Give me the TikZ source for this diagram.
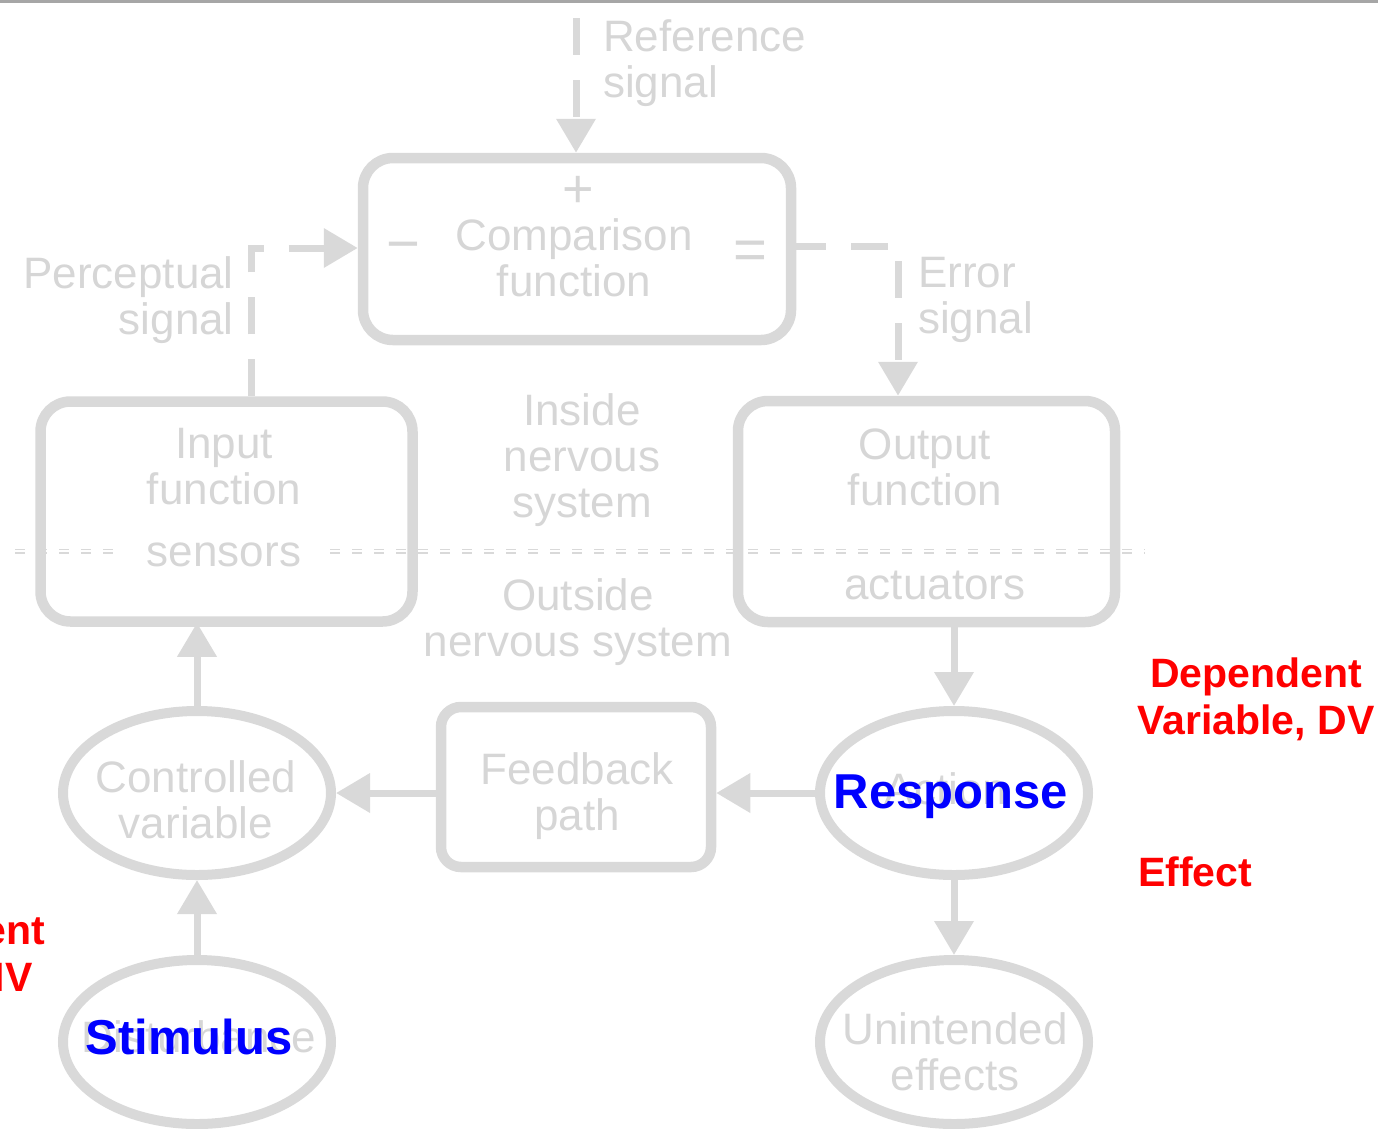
\documentclass[tikz,border=0pt]{standalone}
\usepackage{fontspec}
\setmainfont{Liberation Sans}
\usetikzlibrary{arrows.meta,shapes.geometric}
\definecolor{lgray}{HTML}{D9D9D9}
\definecolor{tgray}{HTML}{D6D6D6}
\definecolor{rulegray}{HTML}{A6A6A6}

\begin{document}
\begin{tikzpicture}[x=1pt,y=-1pt,
  box/.style={draw=lgray, line width=10.5pt, rounded corners=30pt, inner sep=0pt},
  ellip/.style={ellipse, draw=lgray, line width=10pt, minimum width=268pt, minimum height=164pt, inner sep=0pt},
  conn/.style={draw=lgray, line width=7pt, -{Triangle[width=38pt,length=34pt]}},
  dconn/.style={conn, dash pattern=on 37pt off 25pt},
  lbl/.style={text=tgray, font=\fontsize{44}{46}\selectfont, align=center, inner sep=0pt},
  sign/.style={text=tgray, font=\fontsize{58}{60}\selectfont, inner sep=0pt},
  big/.style={text=blue, font=\fontsize{49}{56}\selectfont\bfseries, inner sep=0pt},
  note/.style={text=red, font=\fontsize{41}{47}\selectfont\bfseries, align=center, inner sep=0pt},
  sepline/.style={draw=lgray, line width=1.4pt, dash pattern=on 10pt off 12pt}
]
\useasboundingbox (0,0) rectangle (1378,1128);
\clip (0,0) rectangle (1378,1128);

% rule along the top edge
\draw[draw=rulegray, line width=3pt] (0,1.5) -- (1378,1.5);

% boundary between inside and outside the nervous system
\foreach \yy in {549.5,553} {
  \draw[sepline] (15,\yy) -- (115,\yy);
  \draw[sepline] (330,\yy) -- (1145,\yy);
}

% function boxes
\node[box, minimum width=428pt, minimum height=182pt] (cmp) at (577,249) {};
\node[box, minimum width=372pt, minimum height=220pt] (inp) at (226.5,511.5) {};
\node[box, minimum width=377pt, minimum height=221pt] (out) at (926.5,511.5) {};
\node[box, rounded corners=20pt, minimum width=270pt, minimum height=160pt] (fb) at (576,787) {};

% environment ellipses
\node[ellip] (ctrl) at (197,793) {};
\node[ellip] (resp) at (954,793) {};
\node[ellip] (stim) at (197,1042) {};
\node[ellip] (unint) at (954,1042) {};

% box and ellipse texts
\node[lbl] (cmptxt) at (574,258) {Comparison\\function};
\node[sign, font=\fontsize{54}{56}\selectfont] (plus) at (578,192) {+};
\node[sign] (minus) at (403,253) {−};
\node[sign] (equal) at (750,255) {=};
\node[lbl] (inptxt) at (224,467) {Input\\function};
\node[lbl] (sens) at (224,555) {sensors};
\node[lbl] (outtxt) at (925,467) {Output\\function};
\node[lbl] (act) at (935,585) {actuators};
\node[lbl] (fbtxt) at (577,796) {Feedback\\path};
\node[lbl] (ctrltxt) at (196,800) {Controlled\\variable};
\node[lbl] (unitxt) at (955,1052) {Unintended\\effects};
\node[lbl] (acttxt) at (946,789) {Action};
\node[lbl] (disttxt) at (199,1037) {Disturbance};

% free labels
\node[lbl, align=left, anchor=west] (reftxt) at (603,63) {Reference\\signal};
\node[lbl, align=right, anchor=east] (pertxt) at (234,300) {Perceptual\\signal};
\node[lbl, align=left, anchor=west] (errtxt) at (918,300) {Error\\signal};
\node[lbl] (inside) at (582,460) {Inside\\nervous\\system};
\node[lbl] (outside) at (578,622) {Outside\\nervous system};

% overlaid terms
\node[big] (response) at (951,797) {Response};
\node[big] (stimulus) at (189,1037) {Stimulus};
\node[note] (dv) at (1256,699) {Dependent\\Variable, DV};
\node[note] (effect) at (1195,872) {Effect};
\node[note] (iv) at (-77,956) {Independent\\Variable, IV};

% signal paths
\coordinate (refsrc) at (576,18);
\coordinate (pcorner) at (251,248);
\coordinate (ecorner) at (898,246);
\draw[dconn] (refsrc) -- (refsrc |- cmp.north);
\draw[dconn] (pcorner |- inp.north) -- (pcorner) -- (cmp.west |- pcorner);
\draw[dconn, dash phase=7pt] (cmp.east |- ecorner) -- (ecorner) -- (ecorner |- out.north);

% physical paths
\draw[conn, shorten >=-4pt] (ctrl.north) -- (ctrl.north |- inp.south);
\draw[conn] (stim.north) -- (ctrl.south);
\draw[conn] (resp.north |- out.south) -- (resp.north);
\draw[conn] (resp.south) -- (unint.north);
\draw[conn] (resp.west) -- (resp.west -| fb.east);
\draw[conn] (fb.west |- ctrl.east) -- (ctrl.east);
\end{tikzpicture}
\end{document}
